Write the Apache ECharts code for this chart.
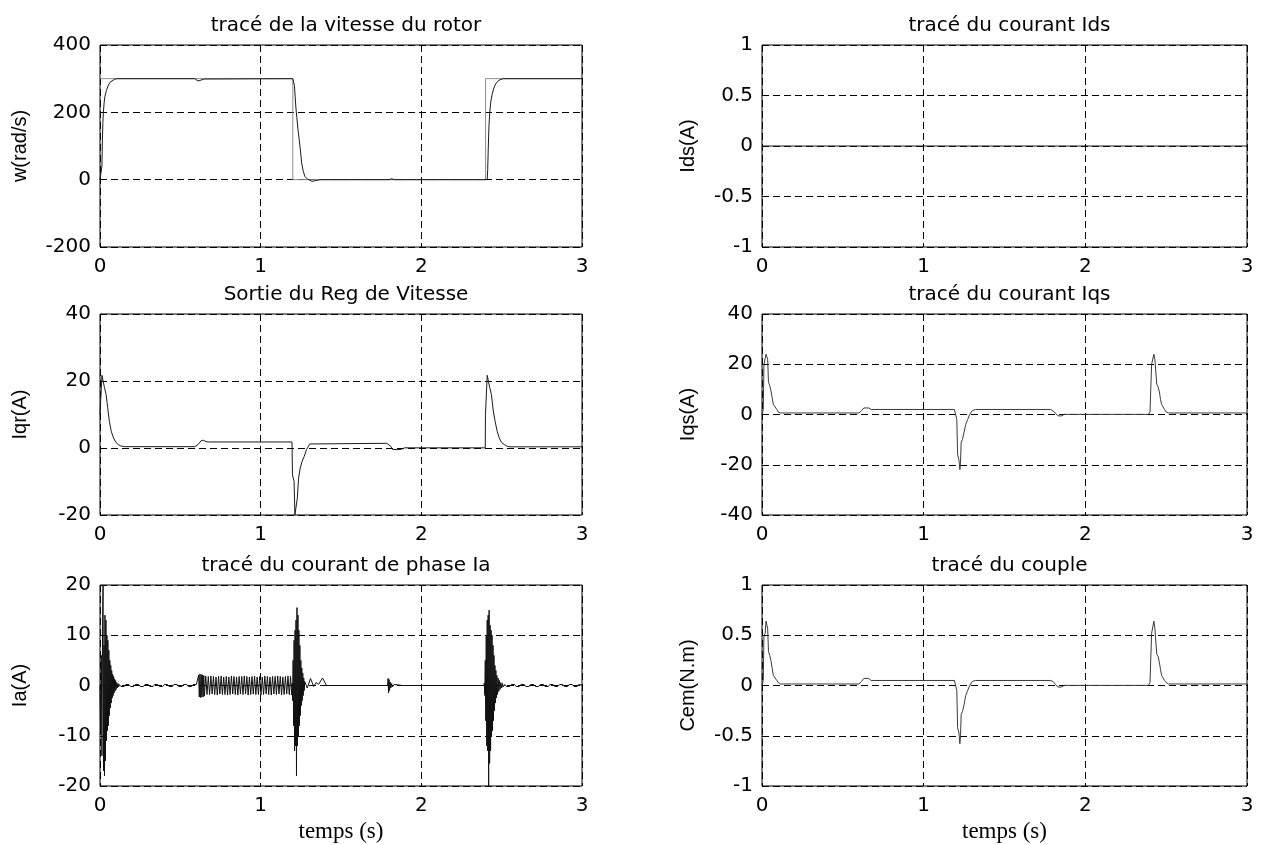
<!DOCTYPE html>
<html>
<head>
<meta charset="utf-8">
<script src="https://cdn.jsdelivr.net/npm/echarts@6/dist/echarts.min.js"></script>
<style>
  html, body { margin: 0; padding: 0; background: #fff; }
  #chart { width: 1265px; height: 845px; }
</style>
</head>
<body>
<div id="chart"></div>
<script>
// vitesse du rotor : consigne et mesure (rad/s)
const wRef = [[0, 300], [1.2, 300], [1.2, 0], [2.4, 0], [2.4, 300], [3, 300]]
const wMes = [
  [0, 0], [0.01, 2], [0.012, 40], [0.015, 120], [0.018, 170], [0.021, 200], [0.026, 230],
  [0.031, 248], [0.04, 265], [0.052, 281], [0.062, 289], [0.073, 294], [0.09, 298], [0.105, 300],
  [0.59, 300], [0.6, 296], [0.61, 293], [0.63, 296], [0.65, 299], [0.66, 300],
  [1.2, 300], [1.205, 298], [1.21, 280], [1.215, 245], [1.22, 210], [1.225, 185], [1.232, 150],
  [1.24, 118], [1.248, 85], [1.255, 50], [1.265, 25], [1.276, 9], [1.29, 2], [1.3, -2],
  [1.32, -5], [1.34, -3], [1.37, 0], [1.8, 0], [1.815, 3], [1.83, 0],
  [2.41, 0], [2.413, 30], [2.417, 100], [2.421, 160], [2.426, 200], [2.432, 230], [2.44, 252],
  [2.45, 270], [2.462, 284], [2.475, 292], [2.49, 297], [2.51, 300], [3, 300]
]

// sortie du régulateur de vitesse (A)
const iqr = [
  [0, 10], [0.012, 21.7], [0.018, 21.7], [0.028, 18], [0.038, 16], [0.048, 12], [0.058, 8],
  [0.07, 5], [0.084, 3], [0.1, 1.6], [0.114, 1], [0.13, 0.6], [0.153, 0.4], [0.59, 0.4],
  [0.61, 1], [0.63, 2.2], [0.645, 2.3], [0.66, 1.9], [0.675, 1.8], [1.195, 1.8], [1.198, -8],
  [1.208, -10], [1.213, -20], [1.222, -20], [1.228, -15], [1.236, -9], [1.246, -6], [1.258, -4],
  [1.271, -2.5], [1.285, -0.5], [1.297, 0.5], [1.305, 1.2], [1.315, 1.4], [1.785, 1.4],
  [1.81, 0.5], [1.82, -0.4], [1.85, -0.5], [1.875, -0.4], [1.895, 0.05], [2.398, 0.05],
  [2.399, 10], [2.41, 21.7], [2.416, 22], [2.426, 18], [2.436, 16], [2.448, 11], [2.459, 8],
  [2.472, 5], [2.485, 3], [2.5, 1.6], [2.517, 1], [2.535, 0.5], [2.55, 0.35], [3, 0.35]
]

// courant de phase Ia (A), par morceaux
const iaStart = [
  [0, 0], [0.004, -9], [0.008, 6], [0.012, -14], [0.016, 12], [0.019, 20], [0.022, -17],
  [0.025, 8], [0.028, -18], [0.031, 14], [0.034, -15], [0.037, 13], [0.040, -11], [0.043, 10],
  [0.046, -9], [0.049, 9], [0.052, -8], [0.055, 7], [0.058, -6], [0.061, 5], [0.064, -4.5],
  [0.067, 4], [0.070, -3.5], [0.073, 3], [0.076, -2.5], [0.079, 2.2], [0.082, -2], [0.085, 1.8],
  [0.088, -1.5], [0.091, 1.3], [0.094, -1.1], [0.097, 1], [0.100, -0.8], [0.104, 0.6],
  [0.108, -0.5], [0.112, 0.4], [0.116, -0.3]
]
const iaNoise1 = [
  [0.12, 0.2], [0.13, -0.2], [0.14, 0.15], [0.15, -0.2], [0.16, 0.2], [0.17, -0.15], [0.18, 0.2],
  [0.19, -0.2], [0.20, 0.15], [0.21, -0.2], [0.22, 0.2], [0.23, -0.15], [0.24, 0.2], [0.25, -0.2],
  [0.26, 0.15], [0.27, -0.2], [0.28, 0.2], [0.29, -0.15], [0.30, 0.2], [0.31, -0.2], [0.32, 0.15],
  [0.33, -0.2], [0.34, 0.2], [0.35, -0.15], [0.36, 0.2], [0.37, -0.2], [0.38, 0.15], [0.39, -0.2],
  [0.40, 0.2], [0.41, -0.15], [0.42, 0.2], [0.43, -0.2], [0.44, 0.15], [0.45, -0.2], [0.46, 0.2],
  [0.47, -0.15], [0.48, 0.2], [0.49, -0.2], [0.50, 0.15], [0.51, -0.2], [0.52, 0.2], [0.53, -0.15],
  [0.54, 0.2], [0.55, -0.2], [0.56, 0.15], [0.57, -0.2], [0.58, 0.2], [0.59, -0.15], [0.60, 0.2],
  [0.605, -0.1]
]
const iaBand = [
  [0.610, 0.3], [0.614, 2.1], [0.618, -2.3], [0.622, 2.3], [0.626, -2.4], [0.630, 2.2],
  [0.634, -2.3], [0.638, 2.1], [0.642, -2.3], [0.646, 2.0], [0.650, -2.1], [0.658, 1.9],
  [0.666, -1.8], [0.674, 1.8], [0.682, -1.8], [0.690, 1.9], [0.698, -1.7], [0.706, 1.8],
  [0.714, -1.8], [0.722, 1.7], [0.730, -1.9], [0.738, 1.8], [0.746, -1.7], [0.754, 1.9],
  [0.762, -1.8], [0.770, 1.7], [0.778, -1.8], [0.786, 1.8], [0.794, -1.9], [0.802, 1.7],
  [0.810, -1.8], [0.818, 1.9], [0.826, -1.7], [0.834, 1.8], [0.842, -1.8], [0.850, 1.7],
  [0.858, -1.9], [0.866, 1.8], [0.874, -1.7], [0.882, 1.8], [0.890, -1.8], [0.898, 1.9],
  [0.906, -1.7], [0.914, 1.8], [0.922, -1.9], [0.930, 1.7], [0.938, -1.8], [0.946, 1.8],
  [0.954, -1.7], [0.962, 1.9], [0.970, -1.8], [0.978, 1.7], [0.986, -1.8], [0.994, 1.8],
  [1.002, -1.9], [1.010, 1.7], [1.018, -1.8], [1.026, 1.9], [1.034, -1.7], [1.042, 1.8],
  [1.050, -1.8], [1.058, 1.7], [1.066, -1.9], [1.074, 1.8], [1.082, -1.7], [1.090, 1.8],
  [1.098, -1.8], [1.106, 1.9], [1.114, -1.7], [1.122, 1.8], [1.130, -1.9], [1.138, 1.7],
  [1.146, -1.8], [1.154, 1.8], [1.162, -1.7], [1.170, 1.9], [1.178, -1.8], [1.186, 1.8],
  [1.193, -1.9]
]
const iaBurst1 = [
  [1.196, 0.5], [1.199, -3], [1.202, 5], [1.205, -8], [1.208, 9], [1.211, -13], [1.214, 11],
  [1.217, -12], [1.220, 13], [1.223, -18], [1.226, 15.5], [1.229, -12], [1.232, 14], [1.235, -10],
  [1.238, 11], [1.241, -8], [1.244, 8], [1.247, -6], [1.250, 5], [1.253, -4], [1.256, 3.5],
  [1.259, -3], [1.262, 2.5], [1.265, -2], [1.268, 1.5], [1.271, -1], [1.274, 0.8]
]
const iaWaves = [
  [1.29, -0.5], [1.31, 1.4], [1.33, -0.2], [1.345, 0.6], [1.36, 0.2], [1.385, 1.5], [1.41, 0],
  [1.79, 0]
]
const iaBlip = [
  [1.793, 1.4], [1.796, -1.5], [1.799, 1.2], [1.802, -1], [1.806, 0.7], [1.81, -0.5],
  [1.815, 0.4], [1.82, -0.3], [1.83, 0.2], [1.84, -0.1], [1.86, 0.1], [1.88, 0], [2.39, 0]
]
const iaBurst2 = [
  [2.392, 0.5], [2.395, -2], [2.398, 5], [2.401, -7], [2.404, 10], [2.407, -12], [2.410, 13],
  [2.413, -13], [2.416, 14], [2.419, -20], [2.422, 15], [2.425, -15.5], [2.428, 12], [2.431, -13],
  [2.434, 11], [2.437, -10], [2.440, 10], [2.443, -9], [2.446, 8], [2.449, -7], [2.452, 6],
  [2.455, -5], [2.458, 4], [2.461, -3.5], [2.464, 3], [2.467, -2.5], [2.470, 2], [2.474, -1.8],
  [2.478, 1.5], [2.482, -1.2], [2.486, 1], [2.490, -0.8], [2.495, 0.6], [2.500, -0.5],
  [2.505, 0.4], [2.51, -0.3]
]
const iaNoise2 = [
  [2.52, 0.2], [2.53, -0.2], [2.54, 0.15], [2.55, -0.2], [2.56, 0.2], [2.57, -0.15], [2.58, 0.2],
  [2.59, -0.2], [2.60, 0.15], [2.61, -0.2], [2.62, 0.2], [2.63, -0.15], [2.64, 0.2], [2.65, -0.2],
  [2.66, 0.15], [2.67, -0.2], [2.68, 0.2], [2.69, -0.15], [2.70, 0.2], [2.71, -0.2], [2.72, 0.15],
  [2.73, -0.2], [2.74, 0.2], [2.75, -0.15], [2.76, 0.2], [2.77, -0.2], [2.78, 0.15], [2.79, -0.2],
  [2.80, 0.2], [2.81, -0.15], [2.82, 0.2], [2.83, -0.2], [2.84, 0.15], [2.85, -0.2], [2.86, 0.2],
  [2.87, -0.15], [2.88, 0.2], [2.89, -0.2], [2.90, 0.15], [2.91, -0.2], [2.92, 0.2], [2.93, -0.15],
  [2.94, 0.2], [2.95, -0.2], [2.96, 0.15], [2.97, -0.2], [2.98, 0.2], [2.99, -0.15], [3, 0.1]
]
const ia = [].concat(iaStart, iaNoise1, iaBand, iaBurst1, iaWaves, iaBlip, iaBurst2, iaNoise2)

// courant Ids (A)
const ids = [[0, 0], [3, 0]]

// courant Iqs (A)
const iqs = [
  [0, 0], [0.008, 2], [0.012, 20], [0.02, 20.5], [0.025, 24], [0.03, 23], [0.035, 22],
  [0.04, 13], [0.048, 11.5], [0.055, 9.5], [0.062, 7], [0.07, 4], [0.082, 3.5], [0.092, 2],
  [0.1, 1], [0.115, 0.6], [0.6, 0.6], [0.615, 1.5], [0.63, 2.6], [0.66, 2.6], [0.675, 2],
  [1.19, 2], [1.2, 1.5], [1.205, -2], [1.21, -16], [1.218, -18], [1.224, -22], [1.228, -19],
  [1.232, -11], [1.24, -10], [1.25, -7], [1.26, -4], [1.272, -2], [1.285, 0], [1.3, 1.5],
  [1.32, 2], [1.785, 2], [1.8, 1.5], [1.815, 0.5], [1.83, -0.5], [1.84, -0.3], [1.85, -0.6],
  [1.86, -0.2], [1.87, 0.05], [2.39, 0.05], [2.4, 1], [2.41, 20], [2.418, 20.5], [2.424, 24],
  [2.43, 22], [2.437, 22], [2.442, 12], [2.45, 11], [2.458, 9], [2.465, 6], [2.472, 4],
  [2.48, 3.5], [2.49, 2], [2.5, 1], [2.515, 0.6], [3, 0.6]
]

// couple électromagnétique (N.m)
const cem = [
  [0, 0], [0.008, 0.05], [0.012, 0.5], [0.02, 0.52], [0.025, 0.64], [0.03, 0.6], [0.035, 0.57],
  [0.04, 0.34], [0.048, 0.3], [0.055, 0.25], [0.062, 0.18], [0.07, 0.1], [0.082, 0.09],
  [0.092, 0.05], [0.1, 0.03], [0.115, 0.015], [0.6, 0.015], [0.615, 0.04], [0.63, 0.07],
  [0.66, 0.07], [0.675, 0.05], [1.19, 0.05], [1.2, 0.04], [1.205, -0.05], [1.21, -0.42],
  [1.218, -0.47], [1.224, -0.58], [1.228, -0.5], [1.232, -0.29], [1.24, -0.26], [1.25, -0.19],
  [1.26, -0.1], [1.272, -0.05], [1.285, 0], [1.3, 0.04], [1.32, 0.05], [1.785, 0.05],
  [1.8, 0.04], [1.815, 0.01], [1.83, -0.015], [1.84, -0.01], [1.85, -0.016], [1.86, -0.005],
  [1.87, 0.001], [2.39, 0.001], [2.4, 0.03], [2.41, 0.52], [2.418, 0.53], [2.424, 0.64],
  [2.43, 0.57], [2.437, 0.57], [2.442, 0.31], [2.45, 0.29], [2.458, 0.23], [2.465, 0.16],
  [2.472, 0.1], [2.48, 0.09], [2.49, 0.05], [2.5, 0.03], [2.515, 0.015], [3, 0.015]
]

const titles = [
  'tracé de la vitesse du rotor', 'tracé du courant Ids',
  'Sortie du Reg de Vitesse', 'tracé du courant Iqs',
  'tracé du courant de phase Ia', 'tracé du couple'
]
const yNames = ['w(rad/s)', 'Ids(A)', 'Iqr(A)', 'Iqs(A)', 'Ia(A)', 'Cem(N.m)']
const yRanges = [[-200, 400, 200], [-1, 1, 0.5], [-20, 40, 20], [-40, 40, 20], [-20, 20, 10], [-1, 1, 0.5]]
const xLabel = 'temps (s)'

// placement des 6 axes (figure 3x2)
const cols = [{ left: 100, width: 482 }, { left: 762, width: 485 }]
const rows = [{ top: 45, height: 202 }, { top: 314, height: 201 }, { top: 585, height: 201 }]

const grid = []
const xAxis = []
const yAxis = []
const title = []

for (let i = 0; i < 6; i++) {
  const c = cols[i % 2]
  const r = rows[Math.floor(i / 2)]
  grid.push({
    left: c.left, top: r.top, width: c.width, height: r.height,
    show: true, borderColor: '#000', borderWidth: 1, backgroundColor: '#fff'
  })
  title.push({
    text: titles[i],
    left: c.left + c.width / 2,
    top: r.top - 34,
    textAlign: 'center',
    textStyle: { fontFamily: 'DejaVu Sans', fontSize: 20, fontWeight: 'normal', color: '#000' }
  })
  const bottom = i >= 4
  xAxis.push({
    gridIndex: i, type: 'value', min: 0, max: 3, interval: 1,
    name: bottom ? xLabel : '',
    nameLocation: 'middle', nameGap: 34,
    nameTextStyle: { fontFamily: 'Liberation Serif', fontSize: 23, color: '#000' },
    axisLine: { show: false },
    axisTick: { show: false },
    axisLabel: { color: '#000', fontFamily: 'DejaVu Sans', fontSize: 20, margin: 10 },
    splitLine: { show: true, lineStyle: { color: '#000', type: [7, 4], width: 1 } }
  })
  const [ymin, ymax, yint] = yRanges[i]
  yAxis.push({
    gridIndex: i, type: 'value', min: ymin, max: ymax, interval: yint,
    name: yNames[i],
    nameLocation: 'middle', nameGap: i % 2 === 0 ? 70 : 64,
    nameTextStyle: { fontFamily: 'Liberation Sans', fontSize: 20, color: '#000' },
    axisLine: { show: false },
    axisTick: { show: false },
    axisLabel: { color: '#000', fontFamily: 'DejaVu Sans', fontSize: 20, margin: 9 },
    splitLine: { show: true, lineStyle: { color: '#000', type: [7, 4], width: 1 } }
  })
}

function courbe(idx, data, color) {
  return {
    type: 'line', xAxisIndex: idx, yAxisIndex: idx, data: data,
    showSymbol: false, symbol: 'none', silent: true, animation: false,
    lineStyle: { color: color, width: 1 }
  }
}

const chart = echarts.init(document.getElementById('chart'))
chart.setOption({
  animation: false,
  backgroundColor: '#fff',
  textStyle: { fontFamily: 'DejaVu Sans' },
  title: title,
  grid: grid,
  xAxis: xAxis,
  yAxis: yAxis,
  series: [
    courbe(0, wRef, '#8a8a8a'),
    courbe(0, wMes, '#1a1a1a'),
    courbe(1, ids, '#1a1a1a'),
    courbe(2, iqr, '#1a1a1a'),
    courbe(3, iqs, '#3a3a3a'),
    courbe(4, ia, '#111'),
    courbe(5, cem, '#3a3a3a')
  ]
})
</script>
</body>
</html>
